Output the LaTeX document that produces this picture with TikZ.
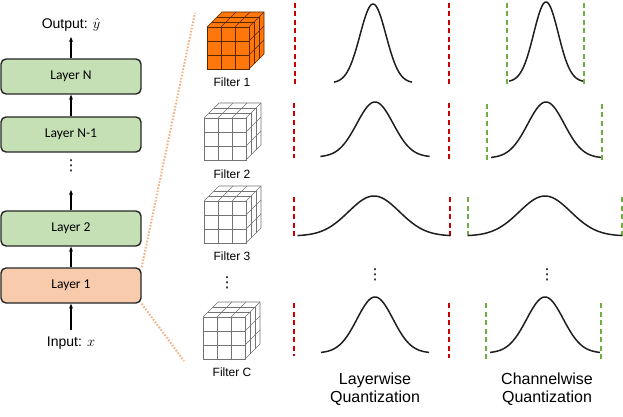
\documentclass[tikz,border=0pt]{standalone}
\usepackage{fontspec}
\setmainfont{Liberation Sans}
\newfontfamily\calfont{Carlito}
\newfontfamily\symfont{DejaVu Sans}
\usetikzlibrary{arrows.meta}
\definecolor{boxgreen}{RGB}{197,224,180}
\definecolor{boxorange}{RGB}{248,203,173}
\definecolor{dotorange}{RGB}{244,177,131}
\definecolor{cubeorange}{RGB}{255,118,10}
\definecolor{cubeedge}{RGB}{90,40,0}
\definecolor{qred}{RGB}{204,0,0}
\definecolor{qgreen}{RGB}{112,173,71}
\newcommand{\filtercube}[4]{%
\begin{scope}[shift={(#1,#2)}, draw=#4, line width=0.6pt]
 \fill[#3] (0,0) -- (42,0) -- (57,-15) -- (57,-57) -- (15,-57) -- (0,-42) -- cycle;
 \draw (0,0) rectangle (42,-42);
 \draw (0,-42) -- (15,-57) -- (57,-57) -- (57,-15) -- (42,0);
 \draw (42,-42) -- (57,-57);
 \foreach \i in {14,28} {
   \draw (\i,0) -- (\i,-42);
   \draw (0,-\i) -- (42,-\i);
   \draw (\i,-42) -- ++(15,-15);
   \draw (42,-\i) -- ++(15,-15);
 }
 \foreach \d in {5,10} {
   \draw (\d,-42-\d) -- ++(42,0);
   \draw (42+\d,-\d) -- ++(0,-42);
 }
\end{scope}}
\newcommand{\gausscurve}[4]{%
 \draw[curve] plot[domain=-3:3,samples=90,smooth] ({#1+(\x)*#3},{#2-#4*exp(-0.5*(\x)*(\x))});}
\begin{document}
\begin{tikzpicture}[x=1pt,y=-1pt,
  layerbox/.style={draw=black!85, line width=1.4pt, rounded corners=5pt,
    minimum width=140pt, minimum height=35pt, inner sep=0pt,
    font=\calfont\fontsize{13.5}{15}\selectfont},
  arr/.style={-{Stealth[length=5pt,width=4pt]}, line width=1.1pt, black},
  lbl/.style={font=\fontsize{14}{16}\selectfont, inner sep=0pt},
  flbl/.style={font=\fontsize{12}{14}\selectfont, inner sep=0pt},
  qlbl/.style={font=\fontsize{16}{18}\selectfont, inner sep=0pt, align=center},
  zoomline/.style={dotorange, line width=2pt, dash pattern=on 1.6pt off 1.6pt},
  reddash/.style={qred, line width=2pt, dash pattern=on 5pt off 3.5pt},
  greendash/.style={qgreen, line width=2pt, dash pattern=on 5pt off 3.5pt},
  curve/.style={line width=1.5pt, black!88},
  vdots/.style={font=\symfont\fontsize{15}{16}\selectfont, inner sep=0pt}
]
\useasboundingbox (0,0) rectangle (623,417);

% left network
\node[layerbox, fill=boxgreen] (LN) at (71,76.5) {Layer N};
\node[layerbox, fill=boxgreen] (LN1) at (71,134.5) {Layer N-1};
\node[vdots] (ldots) at (71,166) {⋮};
\node[layerbox, fill=boxgreen] (L2) at (71,228.5) {Layer 2};
\node[layerbox, fill=boxorange] (L1) at (71,285.5) {Layer 1};
\node[lbl] (out) at (71,25) {Output: $\hat{y}$};
\node[lbl] (in) at (71,343) {Input: $x$};
\coordinate (l2in) at (71,190);
\coordinate (inarr) at (71,330);
\coordinate (ztop) at (195,13);
\coordinate (zbot) at (184,361);

\draw[arr] (LN.north) -- (71,37);
\draw[arr] (LN1.north) -- (LN.south);
\draw[arr] (L2.north) -- (l2in);
\draw[arr] (L1.north) -- (L2.south);
\draw[arr] (inarr) -- (L1.south);

\draw[zoomline] (L1.north east) -- (ztop);
\draw[zoomline] (L1.south east) -- (zbot);

% filters
\filtercube{207}{69}{cubeorange}{cubeedge}
\filtercube{204}{160}{white}{black!55}
\filtercube{204}{243}{white}{black!55}
\filtercube{203}{359}{white}{black!55}
\node[flbl] (f1) at (232,82) {Filter 1};
\node[flbl] (f2) at (232,174) {Filter 2};
\node[flbl] (f3) at (232,256) {Filter 3};
\node[vdots] (fdots) at (227,283) {⋮};
\node[flbl] (fc) at (232,372) {Filter C};

% layerwise
\draw[reddash] (295,3) -- (295,86);
\draw[reddash] (449,3) -- (449,86);
\gausscurve{373}{83}{13}{79}
\draw[reddash] (294,103) -- (294,158);
\draw[reddash] (449,103) -- (449,160);
\gausscurve{375}{157}{18.2}{55}
\draw[reddash] (294,197) -- (294,238);
\draw[reddash] (450,197) -- (450,238);
\gausscurve{374}{236}{25.5}{40}
\node[vdots] (ldots2) at (375,275) {⋮};
\draw[reddash] (294,303) -- (294,356);
\draw[reddash] (449,303) -- (449,358);
\gausscurve{375}{353}{18}{56}

% channelwise
\draw[greendash] (507,3) -- (507,86);
\draw[greendash] (584,3) -- (584,86);
\gausscurve{546}{82}{12.3}{80}
\draw[greendash] (487,104) -- (487,161);
\draw[greendash] (602,104) -- (602,161);
\gausscurve{546}{158}{18.3}{56}
\draw[greendash] (468,197) -- (468,239);
\draw[greendash] (622,197) -- (622,239);
\gausscurve{545}{236}{25.7}{40}
\node[vdots] (cdots) at (547,275) {⋮};
\draw[greendash] (486,303) -- (486,360);
\draw[greendash] (601,303) -- (601,360);
\gausscurve{545}{353}{18.3}{56}

\node[qlbl] (lq) at (375,389) {Layerwise\\Quantization};
\node[qlbl] (cq) at (547,389) {Channelwise\\Quantization};
\end{tikzpicture}
\end{document}
